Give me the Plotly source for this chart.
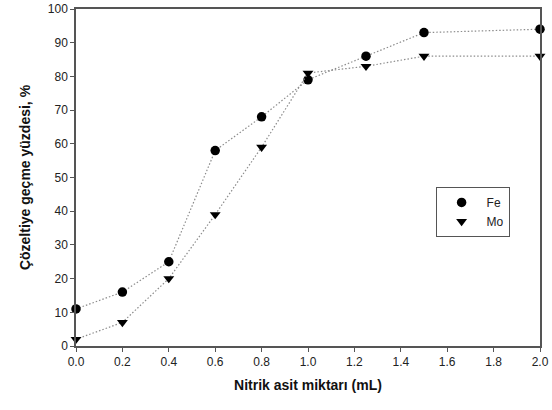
import plotly.graph_objects as go

x_vals = [0.0, 0.2, 0.4, 0.6, 0.8, 1.0, 1.25, 1.5, 2.0]
fe_vals = [11, 16, 25, 58, 68, 79, 86, 93, 94]
mo_vals = [2, 7, 20, 39, 59, 81, 83, 86, 86]
x_ticks = [0.0, 0.2, 0.4, 0.6, 0.8, 1.0, 1.2, 1.4, 1.6, 1.8, 2.0]
y_ticks = [0, 10, 20, 30, 40, 50, 60, 70, 80, 90, 100]
series = [("Fe", fe_vals, "circle"), ("Mo", mo_vals, "triangle-down")]

fig = go.Figure()
for name, vals, sym in series:
    fig.add_trace(go.Scatter(
        x=x_vals, y=vals, name=name, mode="lines+markers", showlegend=False,
        line=dict(color="#8c8c8c", width=1.2, dash="1.5px,2px"),
        marker=dict(symbol=sym, size=9.5, color="black"),
        cliponaxis=False,
    ))
for name, vals, sym in series:
    fig.add_trace(go.Scatter(
        x=[None], y=[None], name=name, mode="markers",
        marker=dict(symbol=sym, size=9.5, color="black"),
    ))

font_fam = "Liberation Sans, Arial"
axis_common = dict(
    showgrid=False, zeroline=False, showline=True, linecolor="#555555",
    linewidth=1.5, mirror=True, ticks="outside", ticklen=4, tickwidth=1,
    tickcolor="#555555", automargin=False,
    tickfont=dict(family=font_fam, size=12, color="#222222"),
)

fig.update_layout(
    width=552, height=410,
    margin=dict(l=75.5, r=11.5, t=9, b=64),
    paper_bgcolor="white", plot_bgcolor="white",
    xaxis=dict(range=[0, 2.0], tickvals=x_ticks, ticktext=[f"{v:.1f}" for v in x_ticks],
               title=dict(text="<b>Nitrik asit miktarı (mL)</b>", standoff=12,
                          font=dict(family=font_fam, size=14, color="#111111")),
               **axis_common),
    yaxis=dict(range=[0, 100], tickvals=y_ticks,
               title=dict(text="<b>Çözeltiye geçme yüzdesi, %</b>", standoff=14,
                          font=dict(family=font_fam, size=14, color="#111111")),
               **axis_common),
    legend=dict(x=0.775, y=0.472, xanchor="left", yanchor="top",
                bordercolor="#555555", borderwidth=1, bgcolor="white",
                font=dict(family=font_fam, size=12, color="#222222"),
                itemwidth=40, entrywidth=80, entrywidthmode="pixels", tracegroupgap=0),
    showlegend=True,
)

fig.write_html("out.html")
